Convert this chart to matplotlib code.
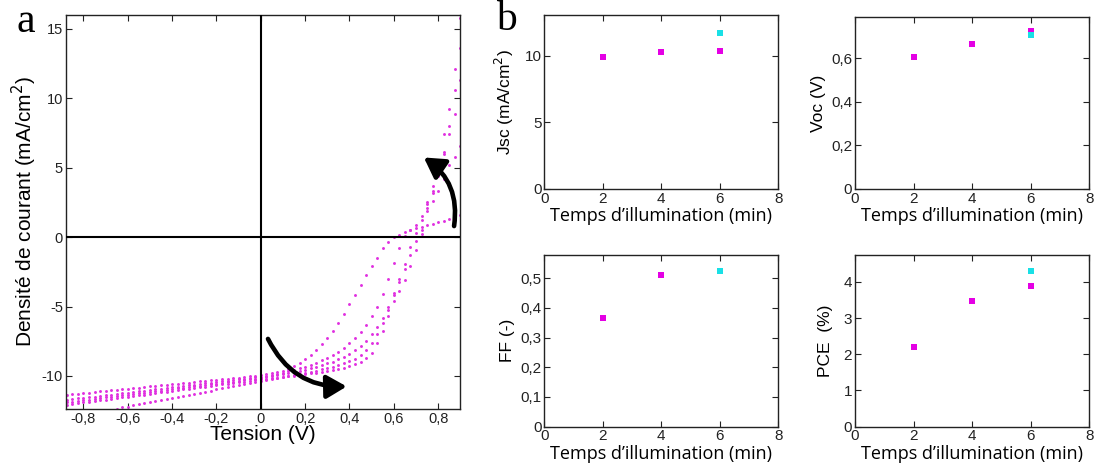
import matplotlib
matplotlib.use('Agg')
import matplotlib.pyplot as plt
from matplotlib.ticker import FuncFormatter, FixedLocator
from matplotlib.patches import FancyArrowPatch

plt.rcParams['font.family'] = ['Liberation Sans', 'DejaVu Sans']

# ---------------- Panel a : J-V sweeps ----------------
voltage = [-0.875, -0.85, -0.825, -0.8, -0.775, -0.75, -0.725, -0.7, -0.675, -0.65,
           -0.625, -0.6, -0.575, -0.55, -0.525, -0.5, -0.475, -0.45, -0.425, -0.4,
           -0.375, -0.35, -0.325, -0.3, -0.275, -0.25, -0.225, -0.2, -0.175, -0.15,
           -0.125, -0.1, -0.075, -0.05, -0.025, 0.0, 0.025, 0.05, 0.075, 0.1,
           0.125, 0.15, 0.175, 0.2, 0.225, 0.25, 0.275, 0.3, 0.325, 0.35,
           0.375, 0.4, 0.425, 0.45, 0.475, 0.5, 0.525, 0.55, 0.575, 0.6,
           0.625, 0.65, 0.675, 0.7, 0.725, 0.75, 0.775, 0.8, 0.825, 0.85,
           0.875, 0.9]

sweep_1 = [-11.35, -11.31, -11.27, -11.23, -11.19, -11.15, -11.11, -11.07, -11.03, -10.99,
           -10.95, -10.91, -10.87, -10.83, -10.79, -10.75, -10.71, -10.67, -10.63, -10.59,
           -10.55, -10.51, -10.47, -10.43, -10.39, -10.35, -10.31, -10.27, -10.23, -10.19,
           -10.15, -10.11, -10.07, -10.03, -9.99, -9.95,
           -9.88, -9.81, -9.73, -9.65, -9.48, -9.30, -9.06, -8.78, -8.47, -8.10,
           -7.70, -7.28, -6.75, -6.15, -5.50, -4.85, -4.18, -3.45, -2.75, -2.10,
           -1.50, -0.78, -0.35, 0.00, 0.18, 0.36, 0.52, 0.64, 0.76, 0.88,
           0.98, 1.08, 1.18, 1.32, 1.45, 1.58]

sweep_2 = [-11.72, -11.67, -11.62, -11.58, -11.53, -11.48, -11.43, -11.39, -11.34, -11.29,
           -11.24, -11.20, -11.15, -11.10, -11.05, -11.01, -10.96, -10.91, -10.86, -10.82,
           -10.77, -10.72, -10.67, -10.63, -10.58, -10.53, -10.48, -10.44, -10.39, -10.34,
           -10.29, -10.25, -10.20, -10.15, -10.10, -10.05,
           -9.98, -9.91, -9.83, -9.75, -9.66, -9.56, -9.46, -9.35, -9.21, -9.05,
           -8.88, -8.70, -8.48, -8.25, -7.97, -7.65, -7.25, -6.80, -6.30, -5.70,
           -5.00, -4.10, -3.00, -1.85, -0.80, 0.05, 0.50, 0.90, 1.50, 2.10,
           2.60, 3.30, 4.20, 5.20, 5.80, 6.60]

sweep_3 = [-11.90, -11.85, -11.80, -11.75, -11.70, -11.65, -11.60, -11.55, -11.50, -11.45,
           -11.40, -11.35, -11.30, -11.25, -11.20, -11.15, -11.10, -11.05, -11.00, -10.95,
           -10.90, -10.85, -10.80, -10.75, -10.70, -10.65, -10.60, -10.55, -10.50, -10.45,
           -10.40, -10.35, -10.30, -10.25, -10.20, -10.15,
           -10.08, -10.00, -9.93, -9.85, -9.78, -9.70, -9.63, -9.55, -9.45, -9.35,
           -9.23, -9.10, -8.96, -8.80, -8.62, -8.40, -8.15, -7.85, -7.45, -7.00,
           -6.45, -5.80, -5.00, -4.05, -3.00, -1.95, -0.70, 0.30, 1.20, 2.40,
           3.20, 4.40, 6.00, 7.40, 8.90, 11.30]

sweep_4 = [-12.06, -12.01, -11.96, -11.90, -11.85, -11.80, -11.75, -11.70, -11.65, -11.59,
           -11.54, -11.49, -11.44, -11.39, -11.34, -11.28, -11.23, -11.18, -11.13, -11.08,
           -11.03, -10.97, -10.92, -10.87, -10.82, -10.77, -10.72, -10.66, -10.61, -10.56,
           -10.51, -10.46, -10.41, -10.35, -10.30, -10.25,
           -10.20, -10.16, -10.11, -10.06, -10.02, -9.97, -9.92, -9.87, -9.82, -9.76,
           -9.70, -9.63, -9.56, -9.48, -9.39, -9.28, -9.16, -9.00, -8.72, -8.35,
           -7.60, -6.75, -5.70, -4.60, -3.90, -3.10, -2.10, -0.90, 0.20, 1.90,
           3.30, 5.00, 7.40, 9.20, 12.10, 15.80]

sweep_5 = [-13.04, -12.96, -12.89, -12.81, -12.73, -12.66, -12.58, -12.50, -12.43, -12.35,
           -12.27, -12.20, -12.12, -12.04, -11.97, -11.89, -11.81, -11.74, -11.66, -11.58,
           -11.51, -11.43, -11.35, -11.28, -11.20, -11.12, -11.05, -10.97, -10.89, -10.82,
           -10.74, -10.66, -10.59, -10.51, -10.43, -10.35,
           -10.28, -10.21, -10.14, -10.07, -10.00, -9.93, -9.86, -9.78, -9.70, -9.62,
           -9.53, -9.43, -9.33, -9.21, -9.08, -8.93, -8.75, -8.50, -8.15, -7.65,
           -7.00, -6.20, -5.25, -4.20, -3.20, -2.30, -1.30, -0.30, 0.50, 2.50,
           3.70, 4.90, 6.10, 8.00, 10.60, 13.60]

sweeps = [sweep_1, sweep_2, sweep_3, sweep_4, sweep_5]

a_xticks = [-0.8, -0.6, -0.4, -0.2, 0, 0.2, 0.4, 0.6, 0.8]
a_yticks = [-10, -5, 0, 5, 10, 15]

# ---------------- Panel b : parameters vs illumination time ----------------
illum_time = [2, 4, 6]
ff_time = [2, 4]
cyan_time = [6]
jsc_magenta = [9.92, 10.27, 10.32]
jsc_cyan = [11.70]
voc_magenta = [0.605, 0.668, 0.727]
voc_cyan = [0.706]
ff_magenta = [0.365, 0.512]
ff_cyan = [0.524]
pce_magenta = [2.19, 3.48, 3.88]
pce_cyan = [4.29]

b_xticks = [0, 2, 4, 6, 8]

MAGENTA_DOT = '#e030e0'
MAGENTA = '#e400e4'
CYAN = '#19e0e6'

W, H = 1097, 466
fig = plt.figure(figsize=(W / 100, H / 100), dpi=100)


def rect(l, t, r, b):
    return [l / W, 1 - b / H, (r - l) / W, (b - t) / H]


def comma_fmt(v, pos):
    v = round(v, 6) + 0.0
    return ('%g' % v).replace('.', ',')


def style_axes(ax, ticksize):
    ax.tick_params(direction='in', length=4, width=0.8, top=True, right=True,
                   labelsize=ticksize, colors='#222222', pad=2)
    for sp in ax.spines.values():
        sp.set_linewidth(1.0)
        sp.set_color('#222222')


# Panel a
axa = fig.add_axes(rect(65.7, 15, 460.3, 409.3))
for s in sweeps:
    axa.plot(voltage, s, linestyle='none', marker='o', ms=2.1, mew=0,
             color=MAGENTA_DOT)
axa.axhline(0, color='black', lw=1.5, zorder=3)
axa.axvline(0, color='black', lw=1.5, zorder=3)
axa.set_xlim(-0.88, 0.9)
axa.set_ylim(-12.4, 16)
axa.xaxis.set_major_locator(FixedLocator(a_xticks))
axa.yaxis.set_major_locator(FixedLocator(a_yticks))
axa.xaxis.set_major_formatter(FuncFormatter(comma_fmt))
axa.yaxis.set_major_formatter(FuncFormatter(comma_fmt))
style_axes(axa, 10.5)
axa.set_xlabel('Tension (V)', fontsize=15, labelpad=-1)
axa.set_ylabel('Densité de courant (mA/cm$^2$)', fontsize=15, labelpad=2)

arr1 = FancyArrowPatch((0.027, -7.15), (0.40, -10.75),
                       connectionstyle='arc3,rad=0.33',
                       arrowstyle='-|>,head_length=0.55,head_width=0.32',
                       mutation_scale=22, lw=3.3, color='black', zorder=5)
arr2 = FancyArrowPatch((0.87, 0.6), (0.725, 5.85),
                       connectionstyle='arc3,rad=0.33',
                       arrowstyle='-|>,head_length=0.55,head_width=0.32',
                       mutation_scale=22, lw=3.3, color='black', zorder=5)
axa.add_patch(arr1)
axa.add_patch(arr2)

fig.text(26 / W, 1 - 22 / H, 'a', family=['Liberation Serif'], fontsize=30,
         ha='center', va='center')
fig.text(506 / W, 1 - 20 / H, 'b', family=['Liberation Serif'], fontsize=30,
         ha='center', va='center')

xlabel_b = 'Temps d\u2019illumination (min)'


def panel_b(r, mtime, mvals, cvals, ylim, yticks, ylabel, lpad):
    ax = fig.add_axes(rect(*r))
    ax.plot(mtime, mvals, linestyle='none', marker='s', ms=5, mew=0,
            color=MAGENTA)
    ax.plot(cyan_time, cvals, linestyle='none', marker='s', ms=5, mew=0,
            color=CYAN)
    ax.set_xlim(0, 8)
    ax.set_ylim(*ylim)
    ax.xaxis.set_major_locator(FixedLocator(b_xticks))
    ax.yaxis.set_major_locator(FixedLocator(yticks))
    ax.xaxis.set_major_formatter(FuncFormatter(comma_fmt))
    ax.yaxis.set_major_formatter(FuncFormatter(comma_fmt))
    style_axes(ax, 11)
    ax.set_xlabel(xlabel_b, fontsize=13, family=['Open Sans', 'DejaVu Sans'],
                  labelpad=1)
    ax.set_ylabel(ylabel, fontsize=12.5, labelpad=lpad)
    return ax


panel_b((544.3, 15, 778.3, 189), illum_time, jsc_magenta, jsc_cyan, (0, 13.05),
        [0, 5, 10], 'Jsc (mA/cm$^2$)', 6)
panel_b((855, 17, 1089.3, 189), illum_time, voc_magenta, voc_cyan, (0, 0.79),
        [0, 0.2, 0.4, 0.6], 'Voc (V)', 4)
panel_b((544.3, 255, 778.3, 426.7), ff_time, ff_magenta, ff_cyan, (0, 0.578),
        [0, 0.1, 0.2, 0.3, 0.4, 0.5], 'FF (-)', 4)
panel_b((855, 255, 1089.3, 426.7), illum_time, pce_magenta, pce_cyan, (0, 4.74),
        [0, 1, 2, 3, 4], 'PCE  (%)', 8)

fig.savefig('out.png', dpi=100)
